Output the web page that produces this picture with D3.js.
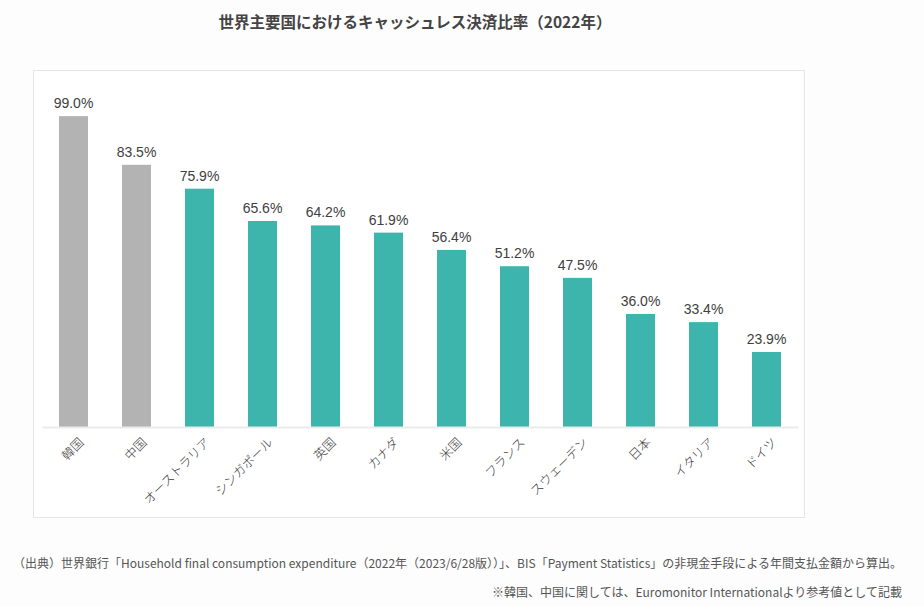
<!DOCTYPE html>
<html>
<head>
<meta charset="utf-8">
<script src="https://cdn.jsdelivr.net/npm/d3@7"></script>
<style>
  body { margin: 0; background: #fdfdfd; font-family: "Noto Sans CJK JP", "Noto Sans", sans-serif; }
</style>
</head>
<body>
<div id="chart"></div>
<script>
var countries = ['韓国', '中国', 'オーストラリア', 'シンガポール', '英国', 'カナダ', '米国', 'フランス', 'スウェーデン', '日本', 'イタリア', 'ドイツ'];
var ratios = [99.0, 83.5, 75.9, 65.6, 64.2, 61.9, 56.4, 51.2, 47.5, 36.0, 33.4, 23.9];
// 韓国・中国は参考値なのでグレー
var isReference = [true, true, false, false, false, false, false, false, false, false, false, false];

var svg = d3.select('#chart')
    .append('svg')
        .attr('width', 924)
        .attr('height', 607)
        .style('background', '#fdfdfd');

svg.append('text')
    .attr('x', 415)
    .attr('y', 28)
    .attr('text-anchor', 'middle')
    .style('font-size', '15.5px')
    .style('font-weight', 'bold')
    .style('fill', '#444')
    .text('世界主要国におけるキャッシュレス決済比率（2022年）');

// 枠
svg.append('rect')
    .attr('x', 33.5)
    .attr('y', 70.5)
    .attr('width', 771)
    .attr('height', 447)
    .style('fill', '#fff')
    .style('stroke', '#e6e6e6');

var x = d3.scaleBand()
    .domain(countries)
    .range([42, 798])
    .paddingInner(0.54)
    .paddingOuter(0.27);

var y = d3.scaleLinear()
    .domain([0, 100])
    .range([427, 113]);

var data = countries.map(function(c, i) {
    return { name: c, value: ratios[i], ref: isReference[i] };
});

svg.selectAll('rect.bar')
    .data(data)
    .enter().append('rect')
        .attr('class', 'bar')
        .attr('x', function(d) { return x(d.name); })
        .attr('y', function(d) { return y(d.value); })
        .attr('width', x.bandwidth())
        .attr('height', function(d) { return y(0) - y(d.value); })
        .style('fill', function(d) { return d.ref ? '#b3b3b3' : '#3db5ac'; });

svg.selectAll('text.val')
    .data(data)
    .enter().append('text')
        .attr('class', 'val')
        .attr('x', function(d) { return x(d.name) + x.bandwidth() / 2; })
        .attr('y', function(d) { return y(d.value) - 8; })
        .attr('text-anchor', 'middle')
        .style('font-family', '"Liberation Sans", Arial, sans-serif')
        .style('font-size', '14px')
        .style('fill', '#404040')
        .text(function(d) { return d.value.toFixed(1) + '%'; });

// 軸
var axis = svg.append('g')
    .attr('transform', 'translate(0,' + y(0) + ')')
    .call(d3.axisBottom(x).tickSize(0).tickPadding(0));

axis.select('.domain')
    .attr('stroke', '#ebebeb')
    .attr('stroke-width', 2);

axis.selectAll('text')
    .attr('transform', 'translate(5,10) rotate(-45)')
    .attr('text-anchor', 'end')
    .attr('dy', '0.7em')
    .style('font-family', '"Noto Sans CJK JP", sans-serif')
    .style('font-size', '12.5px')
    .style('font-weight', '300')
    .style('fill', '#3a3a3a');

svg.append('text')
    .attr('x', 902)
    .attr('y', 568)
    .attr('text-anchor', 'end')
    .style('font-size', '12px')
    .style('fill', '#555')
    .text('（出典）世界銀行「Household final consumption expenditure（2022年（2023/6/28版））」、BIS「Payment Statistics」の非現金手段による年間支払金額から算出。');

svg.append('text')
    .attr('x', 902)
    .attr('y', 597)
    .attr('text-anchor', 'end')
    .style('font-size', '12px')
    .style('fill', '#555')
    .text('※韓国、中国に関しては、Euromonitor Internationalより参考値として記載');
</script>
</body>
</html>
